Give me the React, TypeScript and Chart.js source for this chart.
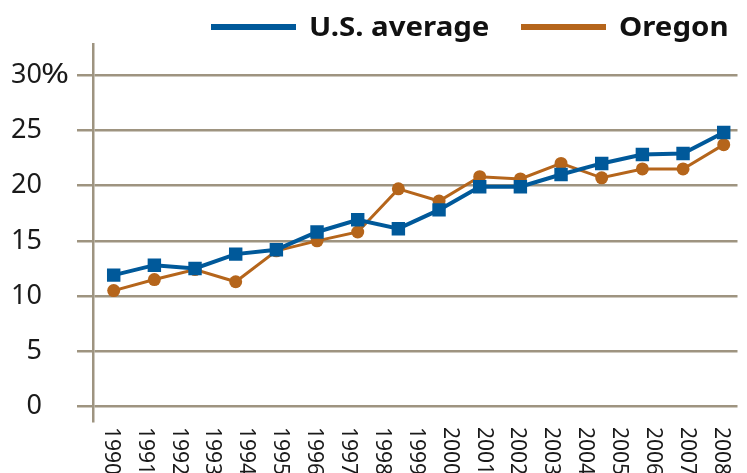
import React, { useEffect, useRef } from "react";
import { Chart, registerables } from "chart.js";

Chart.register(...registerables);

// ---- data ----
const yearLabels = [
  "1990", "1991", "1992", "1993", "1994", "1995", "1996", "1997", "1998", "1999",
  "2000", "2001", "2002", "2003", "2004", "2005", "2006", "2007", "2008",
];
const seriesNames = ["U.S. average", "Oregon"];
const usAverage = [11.9, 12.8, 12.5, 13.8, 14.2, 15.8, 16.9, 16.1, 17.8, 19.9, 19.9, 21.0, 22.0, 22.8, 22.9, 24.8];
const oregon = [10.5, 11.5, 12.4, 11.3, 14.1, 15.0, 15.8, 19.7, 18.6, 20.8, 20.6, 22.0, 20.7, 21.5, 21.5, 23.7];
const yTicks = [0, 5, 10, 15, 20, 25, 30];

const BLUE = "#00599a";
const ORANGE = "#b5651b";
const GRID = "#9e9480";
const TEXT = "#1a1a1a";
const FONT = '"Noto Sans", "Open Sans", sans-serif';

const overlayPlugin = {
  id: "overlay",
  afterDraw(chart: any) {
    const ctx = chart.ctx as CanvasRenderingContext2D;
    const yearScale = chart.scales.xYear;
    const yScale = chart.scales.y;
    ctx.save();
    ctx.fillStyle = TEXT;
    // rotated year labels (reading top to bottom)
    ctx.font = `21px ${FONT}`;
    ctx.textAlign = "left";
    ctx.textBaseline = "middle";
    yearLabels.forEach((label) => {
      const x = yearScale.getPixelForValue(Number(label));
      ctx.save();
      ctx.translate(x, 427);
      ctx.rotate(Math.PI / 2);
      ctx.fillText(label, 0, 0);
      ctx.restore();
    });
    // percent sign after the top tick label
    ctx.font = `27px ${FONT}`;
    ctx.textAlign = "left";
    ctx.textBaseline = "middle";
    ctx.save();
    ctx.translate(41, yScale.getPixelForValue(yTicks[yTicks.length - 1]));
    ctx.scale(1.25, 1);
    ctx.fillText("%", 0, 0);
    ctx.restore();
    // legend
    ctx.font = `bold 27px ${FONT}`;
    ctx.textBaseline = "alphabetic";
    const items = [
      { name: seriesNames[0], color: BLUE, x0: 211 },
      { name: seriesNames[1], color: ORANGE, x0: 521 },
    ];
    items.forEach((it) => {
      ctx.fillStyle = it.color;
      ctx.fillRect(it.x0, 24, 85, 6);
      ctx.fillStyle = "#111";
      ctx.save();
      ctx.translate(it.x0 + 98, 36);
      ctx.scale(1.09, 1);
      ctx.fillText(it.name, 0, 0);
      ctx.restore();
    });
    ctx.restore();
  },
};

export default function App() {
  const ref = useRef<HTMLCanvasElement | null>(null);

  useEffect(() => {
    if (!ref.current) return;
    const chart = new Chart(ref.current, {
      type: "line",
      data: {
        datasets: [
          {
            label: seriesNames[0],
            data: usAverage.map((v, i) => ({ x: i, y: v })),
            borderColor: BLUE,
            backgroundColor: BLUE,
            borderWidth: 4,
            pointStyle: "rect",
            pointRadius: 9.5,
            pointBorderWidth: 0,
            pointBackgroundColor: BLUE,
            tension: 0,
            xAxisID: "x",
            yAxisID: "y",
          },
          {
            label: seriesNames[1],
            data: oregon.map((v, i) => ({ x: i, y: v })),
            borderColor: ORANGE,
            backgroundColor: ORANGE,
            borderWidth: 3,
            pointStyle: "circle",
            pointRadius: 6.5,
            pointBorderWidth: 0,
            pointBackgroundColor: ORANGE,
            tension: 0,
            xAxisID: "x",
            yAxisID: "y",
          },
        ],
      },
      options: {
        animation: false,
        responsive: false,
        maintainAspectRatio: false,
        layout: { padding: { top: 44, bottom: 52, left: 0, right: 0 } },
        plugins: { legend: { display: false }, tooltip: { enabled: false } },
        scales: {
          x: { type: "linear", display: false, min: -0.509, max: 15.339, position: "bottom" },
          xYear: { type: "linear", display: false, min: 1989.477, max: 2008.494, position: "bottom" },
          y: {
            type: "linear",
            position: "left",
            min: -1.29,
            max: 32.8,
            afterBuildTicks: (s: any) => {
              s.ticks = yTicks.map((v) => ({ value: v }));
            },
            afterFit: (s: any) => {
              s.width = 93;
              s.paddingTop = 0;
              s.paddingBottom = 0;
            },
            grid: { color: GRID, lineWidth: 2.5, tickLength: 16, drawTicks: true },
            border: { display: true, color: GRID, width: 2.5 },
            ticks: {
              padding: 35,
              color: TEXT,
              font: { family: FONT, size: 27 },
              autoSkip: false,
              callback: (v: any) => String(v),
            },
          },
        },
      },
      plugins: [overlayPlugin],
    } as any);
    return () => chart.destroy();
  }, []);

  return (
    <div style={{ position: "fixed", left: 0, top: 0, width: 747, height: 473, background: "#fff" }}>
      <canvas ref={ref} width={747} height={473} style={{ display: "block", width: 747, height: 473 }} />
    </div>
  );
}
